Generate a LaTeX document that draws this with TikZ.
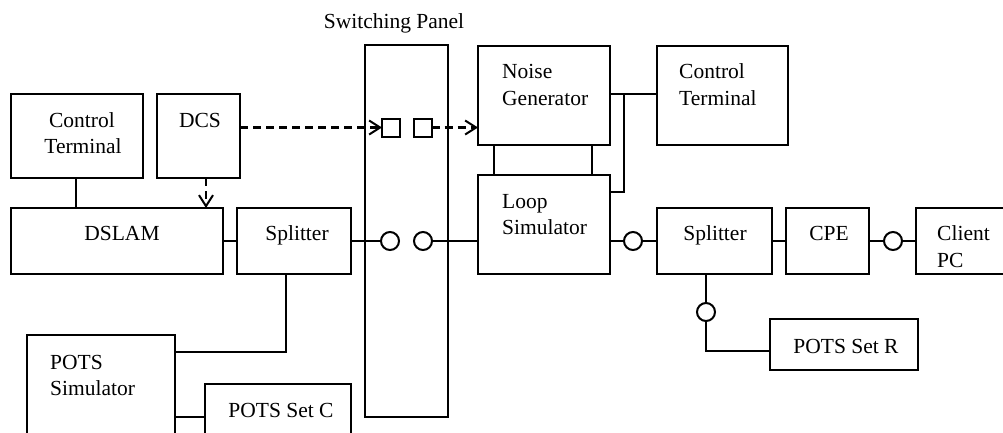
\documentclass[tikz,border=0pt]{standalone}
\usepackage{fontspec}
\setmainfont{Liberation Serif}
\usetikzlibrary{fit,arrows.meta}
\begin{document}
\begin{tikzpicture}[x=1pt,y=-1pt,
  box/.style={draw,line width=2.2pt,inner sep=0pt,outer sep=0pt,rectangle},
  port/.style={draw,line width=2pt,circle,minimum size=18pt,inner sep=0pt,outer sep=0pt},
  sq/.style={draw,line width=2pt,rectangle,minimum size=18pt,inner sep=0pt,outer sep=0pt},
  wire/.style={line width=2.2pt},
  dashwire/.style={line width=2.2pt,dash pattern=on 8pt off 5pt,-{Straight Barb[length=11pt,width=14pt,line width=2pt]}},
  txt/.style={inner sep=0pt,font=\fontsize{21.5}{26}\selectfont}]
\useasboundingbox (0,0) rectangle (1003,432);
\clip (0,0) rectangle (1003,432);
\fill[white] (0,0) rectangle (1003,432);
% box corners
\foreach \n/\a/\b/\c/\d in {ct1/11/94/143/178, dcs/157/94/240/178, dslam/11/208/223/274,
  splL/237/208/351/274, panel/365/45/448/417, ng/478/46/610/145, ct2/657/46/788/145,
  ls/478/175/610/274, splR/657/208/772/274, cpe/786/208/869/274, pc/916/208/1030/274,
  potsR/770/319/918/370, potsSim/27/335/175/460, potsC/205/384/351/460}{
  \coordinate (\n-a) at (\a,\b); \coordinate (\n-b) at (\c,\d);
}
\node[box,fit=(ct1-a)(ct1-b)] (ct1) {};
\node[box,fit=(dcs-a)(dcs-b)] (dcs) {};
\node[box,fit=(dslam-a)(dslam-b)] (dslam) {};
\node[box,fit=(splL-a)(splL-b)] (splL) {};
\node[box,fit=(panel-a)(panel-b)] (panel) {};
\node[box,fit=(ng-a)(ng-b)] (ng) {};
\node[box,fit=(ct2-a)(ct2-b)] (ct2) {};
\node[box,fit=(ls-a)(ls-b)] (ls) {};
\node[box,fit=(splR-a)(splR-b)] (splR) {};
\node[box,fit=(cpe-a)(cpe-b)] (cpe) {};
\node[box,fit=(pc-a)(pc-b)] (pc) {};
\node[box,fit=(potsR-a)(potsR-b)] (potsR) {};
\node[box,fit=(potsSim-a)(potsSim-b)] (potsSim) {};
\node[box,fit=(potsC-a)(potsC-b)] (potsC) {};
% panel ports
\node[sq] (sq1) at (391,127.5) {};
\node[sq] (sq2) at (422.5,127.5) {};
\node[port] (c1) at (390,241) {};
\node[port] (c2) at (423,241) {};
\node[port] (c3) at (633,241) {};
\node[port] (c4) at (893,241) {};
\node[port] (c5) at (706,312) {};
% texts
\node[txt,anchor=base] at (82,127) {Control};
\node[txt,anchor=base] at (83,153) {Terminal};
\node[txt,anchor=base] at (200,127) {DCS};
\node[txt,anchor=base] at (122,240) {DSLAM};
\node[txt,anchor=base] at (297,240) {Splitter};
\node[txt,anchor=base] at (394,28) {Switching Panel};
\node[txt,anchor=base west] at (502,78) {Noise};
\node[txt,anchor=base west] at (502,105) {Generator};
\node[txt,anchor=base west] at (679,78) {Control};
\node[txt,anchor=base west] at (679,105) {Terminal};
\node[txt,anchor=base west] at (502,208) {Loop};
\node[txt,anchor=base west] at (502,234) {Simulator};
\node[txt,anchor=base] at (715,240) {Splitter};
\node[txt,anchor=base] at (829,240) {CPE};
\node[txt,anchor=base west] at (937,240) {Client};
\node[txt,anchor=base west] at (937,267) {PC};
\node[txt,anchor=base] at (846,353) {POTS Set R};
\node[txt,anchor=base west] at (50,369) {POTS};
\node[txt,anchor=base west] at (50,395) {Simulator};
\node[txt,anchor=base] at (281,417) {POTS Set C};
% connectors
\coordinate (j1) at (624,94);
\coordinate (dcsR) at (240,127.5);
\coordinate (dcsB) at (206,178);
\draw[wire] (ct1.south -| 76,0) -- (dslam.north -| 76,0);
\draw[dashwire] (dcsB) -- (dslam.north -| dcsB);
\draw[dashwire] (dcsR) -- (sq1.west);
\draw[dashwire] (sq2.east) -- (ng.west |- sq2);
\draw[wire] (dslam.east |- 0,241) -- (splL.west |- 0,241);
\draw[wire] (splL.east |- c1) -- (c1.west);
\draw[wire] (c2.east) -- (ls.west |- c2);
\draw[wire] (ls.east |- c3) -- (c3.west);
\draw[wire] (c3.east) -- (splR.west |- c3);
\draw[wire] (splR.east |- c3) -- (cpe.west |- c3);
\draw[wire] (cpe.east |- c4) -- (c4.west);
\draw[wire] (c4.east) -- (pc.west |- c4);
\draw[wire] (splR.south -| c5) -- (c5.north);
\draw[wire] (c5.south) -- (706,351) -- (potsR.west |- 0,351);
\draw[wire] (splL.south -| 286,0) -- (286,352) -- (potsSim.east |- 0,352);
\draw[wire] (potsSim.east |- 0,417) -- (potsC.west |- 0,417);
\draw[wire] (ng.south -| 494,0) -- (ls.north -| 494,0);
\draw[wire] (ng.south -| 592,0) -- (ls.north -| 592,0);
\draw[wire] (ng.east |- j1) -- (ct2.west |- j1);
\draw[wire] (j1) -- (624,192) -- (ls.east |- 0,192);
\end{tikzpicture}
\end{document}
